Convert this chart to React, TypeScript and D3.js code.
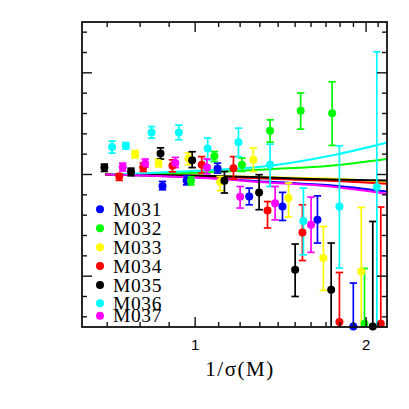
import React from "react";
import * as d3 from "d3";

// [1/sigma, residual, errHigh, errLow]
const m031 = [
  [0.876, -0.056, -0.034, -0.075],
  [0.966, -0.029, -0.006, -0.051],
  [1.095, 0.029, 0.056, 0.007],
  [1.245, -0.108, -0.067, -0.149],
  [1.425, -0.157, -0.088, -0.226],
  [1.642, -0.223, -0.105, -0.337],
  [1.899, -0.747, -0.534, -1.0],
];
const m032 = [
  [0.983, -0.031, -0.011, -0.051],
  [1.081, 0.09, 0.113, 0.064],
  [1.209, 0.048, 0.081, 0.015],
  [1.355, 0.215, 0.269, 0.159],
  [1.534, 0.313, 0.401, 0.223],
  [1.743, 0.301, 0.456, 0.143],
  [1.987, -0.734, -0.462, -1.0],
];
const m033 = [
  [0.784, 0.101, 0.118, 0.082],
  [0.862, 0.057, 0.077, 0.038],
  [0.973, 0.079, 0.107, 0.048],
  [1.107, -0.036, -0.01, -0.079],
  [1.266, 0.072, 0.13, 0.015],
  [1.46, -0.116, -0.042, -0.209],
  [1.682, -0.411, -0.256, -0.57],
  [1.961, -0.477, -0.162, -1.0],
];
const m034 = [
  [0.735, -0.009, 0.003, -0.029],
  [0.81, 0.034, 0.056, 0.015],
  [0.912, 0.043, 0.072, 0.013],
  [1.027, 0.048, 0.088, 0.007],
  [1.168, 0.031, 0.088, -0.023],
  [1.341, -0.177, -0.133, -0.263],
  [1.545, -0.285, -0.149, -0.423],
  [1.795, -0.725, -0.482, -1.0],
  [2.123, -0.734, -0.16, -1.0],
];
const m035 = [
  [0.692, 0.034, 0.051, 0.015],
  [0.771, 0.013, 0.031, -0.006],
  [0.869, 0.103, 0.131, 0.076],
  [0.988, 0.07, 0.112, 0.034],
  [1.126, -0.031, 0.015, -0.091],
  [1.296, -0.088, -0.001, -0.173],
  [1.5, -0.468, -0.342, -0.6],
  [1.736, -0.567, -0.337, -1.0],
  [2.055, -0.747, -0.231, -1.0],
];
const m036 = [
  [0.714, 0.135, 0.164, 0.105],
  [0.755, 0.141, 0.157, 0.125],
  [0.838, 0.206, 0.236, 0.179],
  [0.936, 0.206, 0.243, 0.171],
  [1.052, 0.128, 0.179, 0.072],
  [1.192, 0.158, 0.228, 0.088],
  [1.355, 0.048, 0.149, -0.059],
  [1.551, -0.229, -0.067, -0.395],
  [1.795, -0.157, 0.141, -0.46],
  [2.089, -0.062, 0.604, -1.0],
];
const m037 = [
  [0.7455, 0.037, 0.056, 0.017],
  [0.8165, 0.054, 0.076, 0.036],
  [0.923, 0.057, 0.084, 0.034],
  [1.049, 0.035, 0.076, 0.003],
  [1.2, -0.11, -0.059, -0.165],
  [1.383, -0.141, -0.059, -0.223],
  [1.6, -0.247, -0.111, -0.383],
];

const fitX = [0.694, 1.0, 1.355, 1.729, 2.178];
const fitXCyan = [0.711, 1.0, 1.355, 1.729, 2.178];
const fit031 = [0, -0.014, -0.036, -0.053, -0.084];
const fit032 = [0, 0.008, 0.026, 0.043, 0.076];
const fit033 = [0, -0.004, -0.014, -0.02, -0.037];
const fit034 = [0, -0.008, -0.021, -0.031, -0.046];
const fit035 = [0, -0.005, -0.015, -0.025, -0.03];
const fit036 = [0, 0.018, 0.043, 0.092, 0.157];
const fit037 = [0, -0.015, -0.04, -0.059, -0.095];

const names = ["M031", "M032", "M033", "M034", "M035", "M036", "M037"];
const colors = ["#0000ff", "#00ff00", "#ffff00", "#ff0000", "#000000", "#00ffff", "#ff00ff"];
const seriesData = [m031, m032, m033, m034, m035, m036, m037];
const fits = [fit031, fit032, fit033, fit034, fit035, fit036, fit037];
const fitXs = [fitX, fitX, fitX, fitX, fitX, fitXCyan, fitX];
const legendY = [209.3, 228.3, 247.3, 266, 285, 303.3, 315.7];

const xMinorTicks = [0.7, 0.8, 0.9, 1.1, 1.2, 1.3, 1.4, 1.5, 1.6, 1.7, 1.8, 1.9, 2.1];
const xMajorTicks = [1, 2];
const yMinorTicks = [-0.7, -0.6, -0.4, -0.3, -0.2, -0.1, 0.1, 0.2, 0.3, 0.4, 0.6, 0.7];
const yMajorTicks = [-0.5, 0, 0.5];

export default function App() {
  const L = 82, R = 387, T = 22, B = 327;
  const x = d3.scaleLog().domain([0.632, 2.177]).range([L, R]);
  const y = d3.scaleLinear().domain([-0.75, 0.75]).range([B, T]);
  const ax = "#111";

  return (
    <svg width={409} height={409} style={{ position: "absolute", left: 0, top: 0, background: "#fff" }}>
      <defs>
        <clipPath id="plotclip">
          <rect x={L} y={T} width={R - L} height={B - T} />
        </clipPath>
      </defs>
      <g clipPath="url(#plotclip)">
        {fits.map((f, i) => {
          const line = d3
            .line<number>()
            .x((_, j) => x(fitXs[i][j]))
            .y((d) => y(d))
            .curve(d3.curveMonotoneX);
          return <path key={"f" + i} d={line(f) || ""} fill="none" stroke={colors[i]} strokeWidth={2} />;
        })}
        {seriesData.map((s, i) =>
          s.map((d, j) => {
            const cx = x(d[0]);
            return (
              <g key={"e" + i + "-" + j} stroke={colors[i]} strokeWidth={1.7}>
                <line x1={cx} x2={cx} y1={y(d[2])} y2={y(d[3])} />
                <line x1={cx - 3.7} x2={cx + 3.7} y1={y(d[2])} y2={y(d[2])} />
                <line x1={cx - 3.7} x2={cx + 3.7} y1={y(d[3])} y2={y(d[3])} />
              </g>
            );
          })
        )}
      </g>
      {seriesData.map((s, i) =>
        s.map((d, j) => <circle key={"p" + i + "-" + j} cx={x(d[0])} cy={y(d[1])} r={4} fill={colors[i]} />)
      )}
      <rect x={L} y={T} width={R - L} height={B - T} fill="none" stroke={ax} strokeWidth={1.8} />
      {xMinorTicks.map((t) => (
        <g key={"xm" + t} stroke={ax} strokeWidth={1.4}>
          <line x1={x(t)} x2={x(t)} y1={B} y2={B - 5} />
          <line x1={x(t)} x2={x(t)} y1={T} y2={T + 5} />
        </g>
      ))}
      {xMajorTicks.map((t) => (
        <g key={"xM" + t} stroke={ax} strokeWidth={1.4}>
          <line x1={x(t)} x2={x(t)} y1={B} y2={B - 10} />
          <line x1={x(t)} x2={x(t)} y1={T} y2={T + 10} />
        </g>
      ))}
      {yMinorTicks.map((t) => (
        <g key={"ym" + t} stroke={ax} strokeWidth={1.4}>
          <line x1={L} x2={L + 5} y1={y(t)} y2={y(t)} />
          <line x1={R} x2={R - 5} y1={y(t)} y2={y(t)} />
        </g>
      ))}
      {yMajorTicks.map((t) => (
        <g key={"yM" + t} stroke={ax} strokeWidth={1.4}>
          <line x1={L} x2={L + 10} y1={y(t)} y2={y(t)} />
          <line x1={R} x2={R - 10} y1={y(t)} y2={y(t)} />
        </g>
      ))}
      {xMajorTicks.map((t) => (
        <text key={"xl" + t} x={x(t)} y={350} textAnchor="middle" fontFamily="Liberation Sans, Arial, sans-serif" fontSize={15} fill="#000">
          {t}
        </text>
      ))}
      <text x={240} y={376} textAnchor="middle" fontFamily="Liberation Serif, Times New Roman, serif" fontSize={21} fill="#000" letterSpacing={1.5}>
        1/σ(M)
      </text>
      {names.map((n, i) => (
        <g key={"lg" + n}>
          <circle cx={100} cy={legendY[i]} r={4} fill={colors[i]} />
          <text x={113} y={legendY[i] + 6.5} fontFamily="Liberation Serif, Times New Roman, serif" fontSize={19.5} fill="#000" letterSpacing={0.6}>
            {n}
          </text>
        </g>
      ))}
    </svg>
  );
}
